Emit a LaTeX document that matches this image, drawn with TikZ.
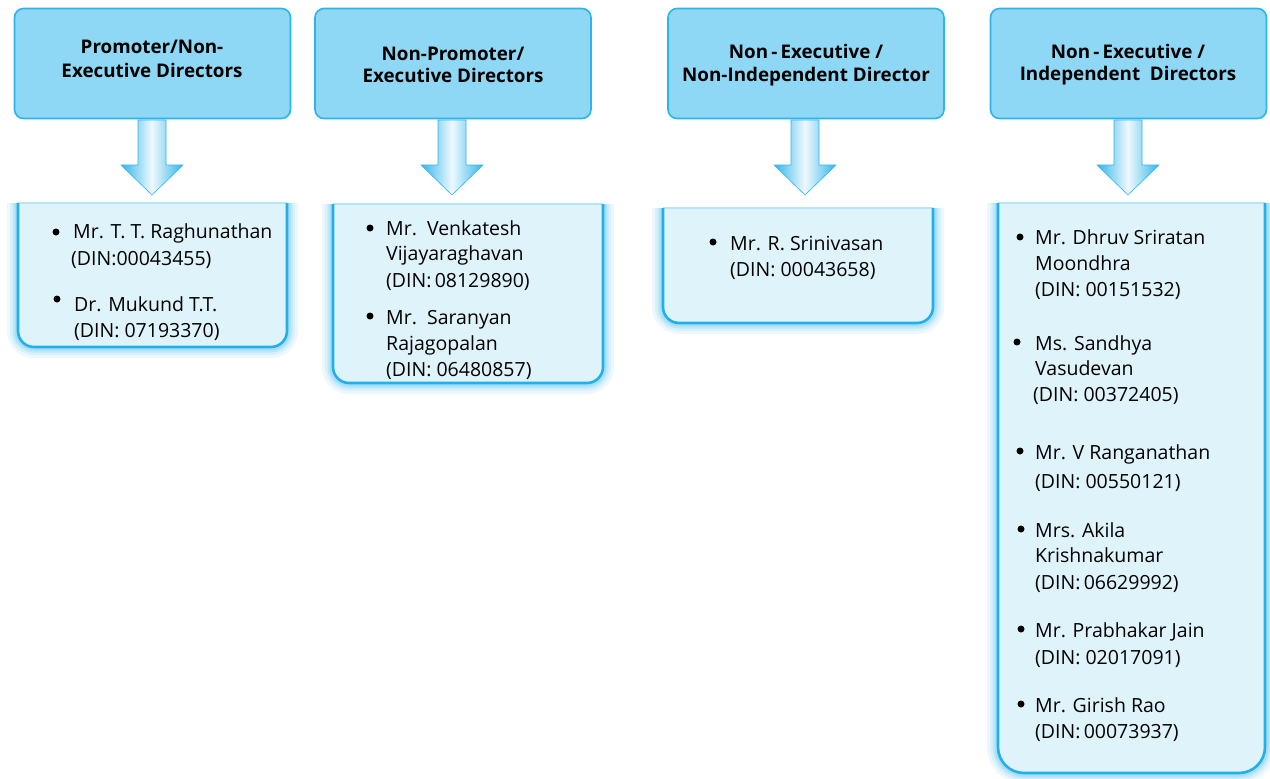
\documentclass[tikz,border=0pt]{standalone}
\usepackage{fontspec}
\setmainfont{Open Sans}
\usetikzlibrary{calc}
\definecolor{hdrfill}{HTML}{8ED8F5}
\definecolor{hdrline}{HTML}{2AB5EC}
\definecolor{lstfill}{HTML}{DFF3FB}
\definecolor{lstline}{HTML}{22B0EA}
\definecolor{arrblue}{HTML}{34B5EA}
\definecolor{glowc}{HTML}{8AD6F5}
\definecolor{topc}{HTML}{B5E5F8}
\tikzset{
 hdr/.style={draw=hdrline, line width=1.6pt, fill=hdrfill, rounded corners=9pt, minimum width=276pt, minimum height=110pt, inner sep=0pt},
 htxt/.style={font=\fontsize{18.8}{22}\selectfont\bfseries, anchor=base, inner sep=0pt},
 itm/.style={font=\fontsize{19.5}{23}\selectfont, anchor=base west, inner sep=0pt},
 arrowshape/.style={draw=arrblue, line width=0.6pt, left color=arrblue, right color=arrblue, middle color=white!92!arrblue},
 glowline/.style={draw=glowc, line join=round},
 lstside/.style={draw=lstline, line width=2.6pt, line join=round},
}
\newcommand{\bigdownarrow}[1]{%
 \path[arrowshape] ({#1-14},120) -- ({#1+14},120) -- ({#1+14},165) -- ({#1+31},165) -- (#1,195) -- ({#1-31},165) -- ({#1-14},165) -- cycle;}
\newcommand{\lstbox}[5]{%
 \foreach \w/\o in {22/0.15,16/0.2,11/0.3,7/0.45}{
  \draw[glowline, line width=\w pt, opacity=\o, rounded corners=#5] (#1,#2) -- (#1,#4) -- (#3,#4) -- (#3,#2);}
 \fill[lstfill] (#1,#2) [rounded corners=#5]-- (#1,#4) -- (#3,#4) [sharp corners]-- (#3,#2) -- cycle;
 \draw[topc, line width=1.2pt] (#1,#2) -- (#3,#2);
 \draw[lstside, rounded corners=#5] (#1,#2) -- (#1,#4) -- (#3,#4) -- (#3,#2);}
\begin{document}
\begin{tikzpicture}[x=1pt,y=-1pt]
\useasboundingbox (0,0) rectangle (1270,779);
\fill[white] (0,0) rectangle (1270,779);

% arrows
\bigdownarrow{152}
\bigdownarrow{452}
\bigdownarrow{805}
\bigdownarrow{1128}

% header boxes
\node[hdr] (h1) at (152.5,63.5) {};
\node[hdr] (h2) at (453,63.5) {};
\node[hdr] (h3) at (806,63.5) {};
\node[hdr] (h4) at (1128.5,63.5) {};
\node[htxt] (h1a) at (152,53) {Promoter/Non-};
\node[htxt] (h1b) at (152,77) {Executive Directors};
\node[htxt] (h2a) at (453,60) {Non-Promoter/};
\node[htxt] (h2b) at (453,82) {Executive Directors};
\node[htxt] (h3a) at (806,58) {Non\,-\,Executive /};
\node[htxt] (h3b) at (806,81) {Non-Independent Director};
\node[htxt] (h4a) at (1128,58) {Non\,-\,Executive /};
\node[htxt] (h4b) at (1128,80) {Independent\ \ Directors};

% list boxes
\lstbox{18}{203}{287}{347}{16}
\lstbox{333}{204}{603}{383}{16}
\lstbox{663}{208}{933}{323}{16}
\lstbox{998}{203}{1265}{773}{26}

% box 1
\fill (56,232) circle (3.5);
\node[itm] (a1) at (73,238) {Mr. T. T. Raghunathan};
\node[itm] (a2) at (71,265) {(DIN:00043455)};
\fill (57,299) circle (3.5);
\node[itm] (a3) at (74,311) {Dr. Mukund T.T.};
\node[itm] (a4) at (74,337) {(DIN: 07193370)};

% box 2
\fill (370,228) circle (3.5);
\node[itm] (b1) at (386,235) {Mr.\ \ Venkatesh};
\node[itm] (b2) at (386,260) {Vijayaraghavan};
\node[itm] (b3) at (386,287) {(DIN:\,08129890)};
\fill (370,316) circle (3.5);
\node[itm] (b4) at (386,324) {Mr.\ \ Saranyan};
\node[itm] (b5) at (386,350) {Rajagopalan};
\node[itm] (b6) at (386,376) {(DIN: 06480857)};

% box 3
\fill (713,242) circle (3.5);
\node[itm] (c1) at (730,250) {Mr. R. Srinivasan};
\node[itm] (c2) at (730,276) {(DIN: 00043658)};

% box 4
\fill (1020,237) circle (3.5);
\node[itm] (d1) at (1035,244) {Mr. Dhruv Sriratan};
\node[itm] (d2) at (1035,270) {Moondhra};
\node[itm] (d3) at (1035,296) {(DIN: 00151532)};
\fill (1017,342) circle (3.5);
\node[itm] (d4) at (1035,350) {Ms. Sandhya};
\node[itm] (d5) at (1035,375) {Vasudevan};
\node[itm] (d6) at (1033,401) {(DIN: 00372405)};
\fill (1020,451) circle (3.5);
\node[itm] (d7) at (1035,459) {Mr. V Ranganathan};
\node[itm] (d8) at (1035,488) {(DIN: 00550121)};
\fill (1021,529) circle (3.5);
\node[itm] (d9) at (1035,537) {Mrs. Akila};
\node[itm] (d10) at (1035,562) {Krishnakumar};
\node[itm] (d11) at (1035,589) {(DIN:\,06629992)};
\fill (1021,629) circle (3.5);
\node[itm] (d12) at (1035,637) {Mr. Prabhakar Jain};
\node[itm] (d13) at (1035,664) {(DIN: 02017091)};
\fill (1021,704) circle (3.5);
\node[itm] (d14) at (1035,712) {Mr. Girish Rao};
\node[itm] (d15) at (1035,738) {(DIN:\,00073937)};
\end{tikzpicture}
\end{document}
